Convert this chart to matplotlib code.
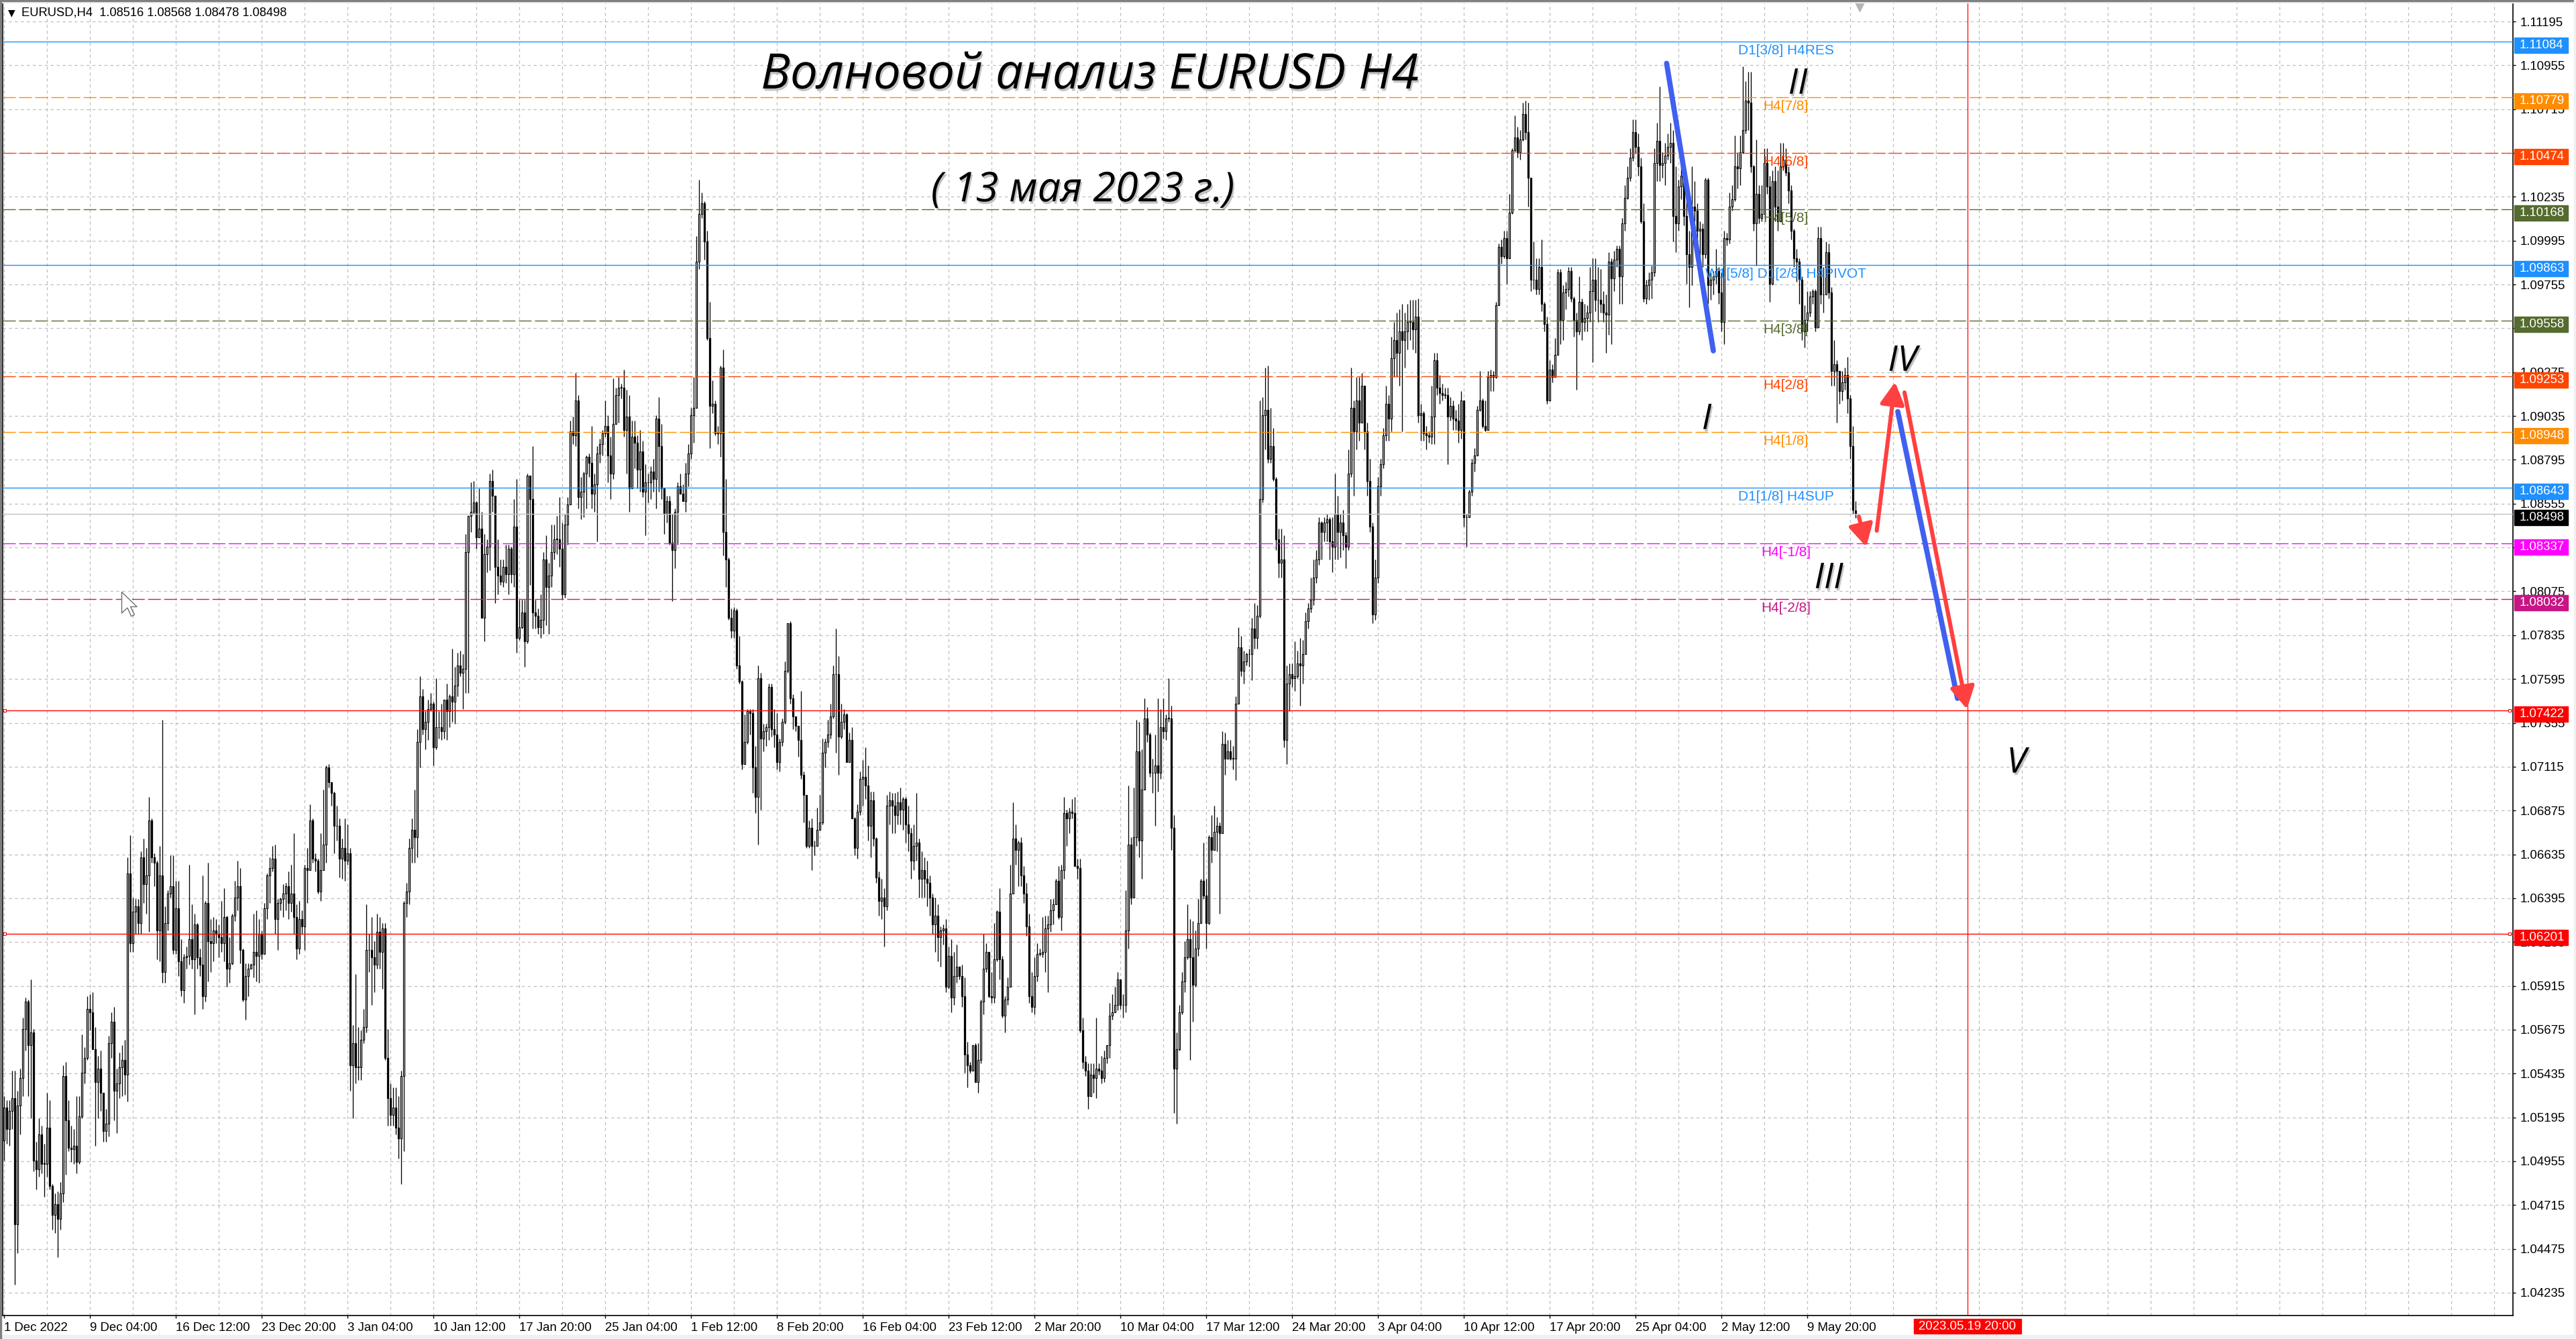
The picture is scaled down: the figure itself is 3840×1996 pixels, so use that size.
# EURUSD H4 wave chart, MT4 style
import numpy as np
import matplotlib
matplotlib.use("Agg")
import matplotlib.pyplot as plt
import matplotlib.patheffects as pe
from matplotlib.patches import Rectangle
from matplotlib.path import Path
from matplotlib.transforms import blended_transform_factory

plt.rcParams['font.family'] = ['Liberation Sans', 'DejaVu Sans']
plt.rcParams['lines.scale_dashes'] = False

# candle values, in pips (1/10000), one H4 bar per entry
close_pips = [
    10525,10513,10523,10530,10461,10526,10541,10568,10583,10559,
    10566,10496,10491,10510,10494,10494,10514,10482,10466,10472,
    10464,10478,10542,10518,10503,10502,10504,10495,10520,10544,
    10552,10579,10577,10557,10539,10546,10533,10512,10516,10560,
    10572,10534,10538,10547,10551,10543,10653,10615,10632,10635,
    10626,10662,10647,10652,10682,10662,10659,10622,10652,10599,
    10626,10642,10646,10611,10634,10605,10589,10607,10608,10617,
    10606,10625,10607,10603,10586,10637,10616,10615,10622,10620,
    10618,10615,10629,10601,10604,10630,10640,10646,10611,10584,
    10597,10601,10603,10610,10608,10620,10609,10634,10652,10656,
    10661,10628,10637,10639,10642,10646,10637,10642,10629,10612,
    10628,10624,10656,10655,10682,10661,10660,10643,10655,10669,
    10711,10703,10697,10679,10679,10661,10667,10660,10664,10548,
    10560,10547,10547,10562,10569,10611,10611,10607,10603,10621,
    10610,10623,10552,10530,10521,10525,10514,10508,10542,10637,
    10643,10667,10677,10673,10725,10750,10732,10736,10743,10746,
    10722,10733,10733,10731,10748,10742,10750,10747,10756,10767,
    10763,10765,10829,10849,10851,10856,10837,10842,10793,10828,
    10832,10868,10860,10821,10816,10813,10821,10817,10831,10817,
    10843,10782,10788,10796,10780,10871,10858,10796,10794,10788,
    10792,10825,10810,10816,10829,10836,10836,10831,10806,10844,
    10855,10895,10893,10912,10859,10862,10872,10881,10878,10861,
    10866,10883,10888,10894,10898,10882,10872,10899,10915,10919,
    10919,10896,10903,10864,10892,10889,10874,10884,10862,10867,
    10867,10873,10869,10902,10887,10864,10850,10857,10834,10830,
    10851,10865,10861,10857,10872,10883,10904,10908,10988,11014,
    11020,10999,10946,10909,10910,10894,10894,10930,10840,10825,
    10793,10786,10797,10767,10758,10713,10725,10742,10741,10711,
    10695,10760,10727,10731,10733,10755,10732,10729,10714,10725,
    10736,10764,10790,10749,10739,10734,10726,10707,10696,10668,
    10678,10668,10668,10677,10681,10719,10725,10729,10739,10762,
    10762,10728,10736,10740,10714,10726,10683,10667,10687,10705,
    10706,10701,10679,10693,10672,10651,10638,10640,10635,10690,
    10693,10690,10685,10692,10688,10694,10680,10675,10660,10668,
    10670,10650,10655,10650,10648,10640,10625,10630,10618,10622,
    10623,10591,10608,10585,10597,10602,10597,10586,10554,10548,
    10545,10559,10539,10551,10583,10601,10610,10586,10585,10606,
    10632,10606,10575,10584,10591,10642,10672,10666,10670,10652,
    10642,10624,10586,10580,10597,10609,10609,10610,10623,10625,
    10633,10636,10649,10629,10655,10686,10683,10687,10686,10657,
    10656,10567,10550,10545,10531,10543,10541,10546,10545,10541,
    10552,10559,10575,10577,10581,10595,10581,10581,10622,10669,
    10640,10673,10720,10671,10699,10738,10729,10708,10708,10712,
    10708,10733,10731,10738,10738,10678,10546,10557,10577,10594,
    10607,10617,10607,10592,10612,10626,10649,10641,10626,10673,
    10666,10676,10679,10675,10724,10716,10720,10716,10716,10746,
    10777,10764,10769,10773,10773,10787,10782,10794,10858,10904,
    10907,10880,10887,10869,10836,10823,10825,10726,10757,10762,
    10760,10761,10768,10767,10773,10791,10798,10803,10815,10825,
    10845,10840,10845,10847,10835,10832,10850,10840,10845,10838,
    10832,10872,10908,10895,10912,10900,10920,10895,10868,10843,
    10795,10815,10865,10877,10893,10910,10902,10935,10945,10938,
    10950,10945,10950,10955,10955,10951,10958,10904,10905,10894,
    10893,10892,10903,10934,10919,10916,10915,10915,10903,10909,
    10902,10901,10896,10912,10848,10848,10862,10878,10882,10907,
    10912,10898,10896,10925,10926,10925,10964,10996,10991,11001,
    10990,11015,11049,11056,11048,11055,11069,11059,11034,10978,
    10978,10973,10985,10965,10954,10912,10929,10925,10937,10982,
    10956,10971,10973,10983,10968,10956,10950,10966,10955,10957,
    10960,10972,10978,10967,10967,10965,10960,10959,10988,10979,
    10989,10995,10980,11009,11023,11034,11045,11059,11051,11040,
    11010,10968,10975,10978,10982,11042,11054,11041,11042,11046,
    11051,11053,11013,11009,11029,11035,11013,10992,10985,11018,
    11016,11005,11006,10992,11033,10975,10978,10980,10983,10971,
    10955,11001,11000,11018,11022,11040,11039,11048,11060,11076,
    11075,11040,11009,11025,11012,11014,11042,11029,10976,11032,
    11018,11010,11040,11044,11037,11027,11005,10990,10988,10978,
    10950,10956,10960,10969,10972,10952,11001,10970,10970,10993,
    10971,10928,10932,10928,10917,10922,10926,10913,10887,10852,
    10849.8,
]
high_pips = [
    10531,10529,10529,10545,10545,10534,10546,10574,10585,10584,
    10595,10568,10506,10519,10515,10505,10533,10529,10483,10478,
    10479,10484,10548,10550,10529,10515,10513,10531,10531,10565,
    10558,10586,10587,10588,10569,10553,10556,10533,10524,10564,
    10577,10580,10546,10555,10559,10562,10662,10674,10640,10639,
    10639,10665,10672,10667,10695,10683,10664,10660,10668,10737,
    10635,10644,10663,10663,10649,10649,10617,10609,10613,10658,
    10636,10631,10626,10612,10652,10638,10659,10628,10629,10628,
    10625,10638,10645,10630,10618,10631,10649,10660,10656,10612,
    10604,10604,10604,10631,10633,10628,10622,10637,10653,10662,
    10668,10669,10639,10640,10647,10648,10654,10658,10675,10636,
    10638,10633,10658,10667,10691,10683,10664,10661,10675,10699,
    10712,10713,10702,10698,10690,10683,10672,10683,10680,10667,
    10570,10598,10569,10567,10579,10636,10620,10629,10616,10631,
    10629,10626,10626,10568,10538,10536,10536,10531,10545,10638,
    10648,10672,10683,10699,10732,10761,10754,10742,10748,10752,
    10747,10760,10742,10746,10748,10757,10751,10776,10766,10774,
    10775,10773,10839,10849,10867,10868,10857,10864,10851,10839,
    10836,10872,10874,10860,10836,10825,10825,10833,10833,10832,
    10858,10869,10803,10803,10803,10872,10871,10887,10803,10798,
    10806,10829,10838,10823,10844,10844,10849,10859,10845,10850,
    10859,10901,10903,10927,10915,10870,10873,10882,10883,10898,
    10872,10887,10891,10896,10912,10904,10892,10924,10919,10925,
    10921,10929,10918,10915,10901,10901,10893,10896,10890,10877,
    10872,10876,10880,10904,10914,10899,10860,10860,10860,10850,
    10853,10867,10872,10866,10878,10888,10908,10925,11002,11033,
    11026,11021,11005,10966,10923,10912,10898,10931,10940,10869,
    10826,10798,10799,10798,10783,10759,10740,10743,10743,10743,
    10723,10767,10763,10735,10735,10757,10757,10743,10741,10727,
    10738,10769,10790,10791,10751,10738,10734,10753,10709,10696,
    10682,10683,10671,10689,10696,10727,10727,10737,10746,10767,
    10787,10772,10746,10743,10741,10730,10733,10684,10691,10709,
    10715,10722,10712,10698,10698,10673,10654,10650,10645,10696,
    10698,10697,10697,10698,10700,10695,10695,10690,10678,10680,
    10697,10672,10665,10662,10660,10652,10642,10640,10636,10624,
    10625,10628,10613,10617,10610,10614,10602,10603,10596,10561,
    10550,10559,10560,10560,10584,10620,10615,10610,10599,10626,
    10633,10645,10608,10586,10596,10658,10692,10680,10671,10673,
    10657,10648,10631,10599,10607,10615,10612,10629,10630,10630,
    10639,10639,10650,10657,10658,10695,10688,10689,10694,10695,
    10661,10661,10574,10553,10549,10549,10549,10574,10549,10553,
    10556,10559,10582,10587,10591,10599,10595,10587,10644,10701,
    10673,10700,10737,10736,10721,10749,10744,10730,10716,10729,
    10749,10743,10749,10740,10760,10745,10685,10566,10581,10599,
    10616,10636,10628,10627,10622,10639,10650,10670,10650,10674,
    10685,10690,10684,10681,10731,10730,10726,10726,10723,10750,
    10788,10783,10775,10774,10776,10793,10801,10800,10912,10914,
    10930,10931,10908,10897,10870,10842,10842,10838,10767,10768,
    10768,10780,10775,10782,10781,10796,10801,10815,10825,10830,
    10848,10846,10848,10850,10848,10848,10872,10860,10850,10852,
    10840,10885,10930,10912,10925,10925,10927,10920,10900,10880,
    10845,10825,10870,10880,10897,10920,10915,10947,10955,10960,
    10962,10965,10960,10965,10967,10967,10967,10968,10910,10906,
    10898,10895,10920,10938,10938,10926,10921,10919,10919,10914,
    10912,10907,10910,10917,10912,10850,10863,10880,10886,10909,
    10928,10913,10912,10928,10929,10928,10966,10998,11000,11005,
    11005,11025,11050,11068,11062,11060,11075,11076,11075,11034,
    10999,10990,10990,11000,10966,10958,10934,10932,10946,10984,
    10984,10975,10977,10985,10985,10969,10960,10980,10968,10965,
    10964,10985,10990,10990,10985,10984,10972,10970,10993,10990,
    10994,10997,10997,11012,11030,11040,11050,11066,11066,11058,
    11045,11020,10978,10982,10986,11050,11064,11084,11048,11053,
    11058,11064,11060,11040,11033,11040,11038,11025,11005,11040,
    11032,11020,11010,11009,11034,11034,10982,10983,10995,10985,
    10982,11005,11004,11026,11030,11057,11048,11057,11095,11087,
    11092,11092,11041,11055,11030,11030,11050,11050,11035,11038,
    11040,11038,11053,11053,11050,11040,11030,11006,10995,10990,
    10980,10964,10972,10972,10973,10973,11007,11007,10985,10999,
    10998,10974,10945,10934,10926,10928,10930,10936,10915,10898,
    10856.8,
]
low_pips = [
    10496,10505,10504,10513,10428,10445,10510,10531,10556,10531,
    10519,10490,10480,10487,10489,10476,10487,10480,10458,10456,
    10443,10458,10473,10488,10501,10495,10494,10489,10494,10519,
    10538,10551,10567,10557,10504,10519,10523,10506,10506,10509,
    10552,10518,10511,10530,10531,10532,10528,10610,10610,10620,
    10620,10620,10637,10631,10621,10659,10646,10606,10605,10593,
    10593,10622,10640,10609,10609,10597,10586,10582,10601,10603,
    10601,10576,10601,10597,10579,10583,10594,10599,10605,10615,
    10607,10610,10605,10591,10593,10603,10627,10633,10604,10583,
    10573,10586,10601,10596,10594,10593,10606,10632,10628,10637,
    10654,10620,10611,10633,10629,10633,10628,10632,10620,10606,
    10609,10620,10611,10637,10655,10659,10654,10642,10638,10655,
    10659,10700,10690,10664,10671,10651,10650,10649,10658,10534,
    10519,10538,10540,10540,10560,10566,10599,10581,10588,10601,
    10601,10590,10551,10515,10515,10515,10510,10497,10483,10501,
    10629,10636,10659,10659,10662,10711,10729,10721,10726,10742,
    10712,10721,10727,10726,10727,10726,10733,10736,10735,10750,
    10761,10743,10752,10752,10840,10850,10831,10837,10793,10780,
    10818,10819,10851,10801,10806,10811,10810,10812,10806,10812,
    10810,10774,10781,10787,10766,10779,10811,10787,10787,10784,
    10782,10784,10789,10784,10810,10825,10828,10821,10803,10804,
    10833,10859,10888,10887,10853,10847,10848,10853,10870,10853,
    10851,10835,10878,10882,10892,10867,10858,10869,10899,10900,
    10913,10892,10872,10851,10864,10875,10864,10862,10859,10838,
    10856,10858,10862,10853,10862,10858,10839,10845,10833,10802,
    10820,10833,10861,10857,10851,10865,10880,10889,10908,10984,
    11012,10989,10945,10886,10905,10893,10888,10881,10827,10810,
    10792,10782,10782,10765,10757,10710,10713,10724,10729,10697,
    10686,10669,10688,10720,10723,10726,10728,10722,10710,10709,
    10723,10735,10763,10746,10732,10731,10717,10705,10681,10667,
    10667,10655,10663,10668,10677,10680,10711,10722,10727,10738,
    10719,10707,10727,10732,10714,10714,10683,10663,10661,10685,
    10690,10694,10671,10662,10668,10648,10630,10628,10613,10633,
    10680,10675,10675,10680,10680,10677,10670,10665,10650,10655,
    10660,10640,10640,10640,10635,10630,10620,10610,10605,10602,
    10614,10588,10590,10577,10581,10593,10595,10580,10544,10536,
    10544,10546,10539,10533,10549,10576,10599,10585,10582,10582,
    10605,10595,10574,10566,10581,10591,10642,10658,10646,10646,
    10637,10619,10582,10577,10576,10594,10608,10607,10599,10588,
    10621,10625,10636,10628,10622,10650,10668,10675,10683,10657,
    10650,10566,10546,10542,10524,10531,10533,10530,10543,10538,
    10539,10549,10552,10573,10577,10578,10579,10574,10577,10612,
    10636,10663,10668,10662,10650,10699,10725,10706,10697,10679,
    10698,10705,10727,10726,10736,10666,10522,10516,10556,10576,
    10588,10606,10551,10572,10591,10608,10626,10639,10612,10625,
    10659,10666,10665,10631,10675,10707,10716,10715,10710,10704,
    10746,10761,10757,10767,10766,10759,10776,10776,10793,10856,
    10885,10878,10878,10868,10830,10815,10815,10722,10713,10742,
    10755,10753,10760,10745,10757,10773,10787,10796,10800,10812,
    10822,10825,10835,10835,10825,10818,10825,10825,10826,10830,
    10820,10830,10870,10860,10885,10890,10900,10885,10860,10840,
    10790,10792,10812,10860,10875,10890,10890,10895,10925,10925,
    10920,10895,10930,10940,10945,10940,10938,10900,10890,10890,
    10885,10889,10888,10888,10915,10910,10912,10913,10877,10901,
    10896,10896,10889,10891,10843,10832,10848,10860,10873,10882,
    10906,10897,10895,10910,10917,10917,10924,10964,10987,10990,
    10976,10990,11014,11048,11045,11044,11054,11055,11018,10972,
    10973,10970,10970,10961,10950,10910,10912,10922,10925,10937,
    10943,10945,10962,10969,10966,10947,10918,10948,10945,10950,
    10950,10955,10933,10961,10955,10960,10955,10938,10948,10943,
    10972,10985,10965,10965,11005,11022,11032,11043,11047,11035,
    11009,10966,10965,10967,10968,10980,11032,11032,11034,11030,
    11044,11042,10999,10993,11005,11022,11008,10976,10963,10975,
    11010,10995,10990,10985,10990,10965,10967,10970,10976,10965,
    10950,10943,10997,10998,11016,11021,11028,11030,11047,11058,
    11060,11037,11005,10986,11009,11010,11025,11025,10966,10975,
    11010,11005,11022,11038,11035,11020,11000,10985,10977,10965,
    10945,10941,10950,10958,10965,10950,10952,10965,10960,10975,
    10968,10920,10920,10900,10910,10912,10918,10905,10880,10850,
    10847.8,
]
first_open_pips = 10507
last_open_pips = 10851.6

price_ticks = [1.11195, 1.10955, 1.10715, 1.10475, 1.10235, 1.09995, 1.09755, 1.09515,
               1.09275, 1.09035, 1.08795, 1.08555, 1.08315, 1.08075, 1.07835, 1.07595,
               1.07355, 1.07115, 1.06875, 1.06635, 1.06395, 1.06155, 1.05915, 1.05675,
               1.05435, 1.05195, 1.04955, 1.04715, 1.04475, 1.04235]
date_labels = ["1 Dec 2022", "9 Dec 04:00", "16 Dec 12:00", "23 Dec 20:00", "3 Jan 04:00",
               "10 Jan 12:00", "17 Jan 20:00", "25 Jan 04:00", "1 Feb 12:00", "8 Feb 20:00",
               "16 Feb 04:00", "23 Feb 12:00", "2 Mar 20:00", "10 Mar 04:00", "17 Mar 12:00",
               "24 Mar 20:00", "3 Apr 04:00", "10 Apr 12:00", "17 Apr 20:00", "25 Apr 04:00",
               "2 May 12:00", "9 May 20:00"]

# murrey levels: price, colour, dashed or not, chart text
level_prices = [1.11084, 1.10779, 1.10474, 1.10168, 1.09863, 1.09558, 1.09253, 1.08948,
                1.08643, 1.08337, 1.08032]
level_colors = ['#1E90FF', '#FF8C00', '#FF4500', '#556B2F', '#1E90FF', '#556B2F', '#FF4500',
                '#FF8C00', '#1E90FF', '#FF00FF', '#C71585']
level_dashed = [False, True, True, True, False, True, True, True, False, True, True]
level_names = ["D1[3/8] H4RES", "H4[7/8]", "H4[6/8]", "H4[5/8]", "W1[5/8] D1[2/8] H4PIVOT",
               "H4[3/8]", "H4[2/8]", "H4[1/8]", "D1[1/8] H4SUP", "H4[-1/8]", "H4[-2/8]"]
red_levels = [1.07422, 1.06201]
last_price = 1.08498
target_bar = 731.75
target_label = "2023.05.19 20:00"
label_bar = 664

wave_names = ["I", "II", "III", "IV", "V"]
wave_bars = [634.5, 668.5, 680, 707.5, 750]
wave_prices = [1.09014, 1.10850, 1.08143, 1.09333, 1.07133]

blue_legs = [((619.6, 1.10966), (637, 1.09392)), ((705.75, 1.09059), (728, 1.07489))]
red_legs = [((691.25, 1.08484), (694, 1.08319)), ((697.9, 1.08407), (704.75, 1.09221)),
            ((708.25, 1.09164), (731.5, 1.07430))]

close = np.array(close_pips) / 10000
high = np.array(high_pips) / 10000
low = np.array(low_pips) / 10000
opens = np.concatenate([[first_open_pips / 10000], close[:-1]])
opens[-1] = last_open_pips / 10000
bars = np.arange(len(close))

W, H = 3840, 1996
fig = plt.figure(figsize=(W / 100, H / 100), dpi=100, facecolor='white')
ax = fig.add_axes([4 / W, 1 - 1961 / H, 3742 / W, 1957 / H])
ax.set_xlim(-0.5, 935)
ax.set_ylim(1.0411, 1.11298)

# window chrome
fig.patches.append(Rectangle((0, 1 - 4 / H), 1, 4 / H, transform=fig.transFigure, color='#F0F0F0', zorder=0))
fig.patches.append(Rectangle((0, 1 - 2 / H), 1, 2 / H, transform=fig.transFigure, color='#808080', zorder=0))
fig.patches.append(Rectangle((0, 0), 1, 6 / H, transform=fig.transFigure, color='#F0F0F0', zorder=0))
fig.patches.append(Rectangle((0, 0), 2 / W, 1, transform=fig.transFigure, color='#808080', zorder=0))
fig.patches.append(Rectangle((1 - 3 / W, 0), 3 / W, 1, transform=fig.transFigure, color='#F0F0F0', zorder=0))

# grid and axes
ax.set_yticks(price_ticks)
ax.set_yticklabels([f"{p:.5f}" for p in price_ticks])
ax.yaxis.tick_right()
ax.set_xticks(np.arange(len(date_labels)) * 32)
ax.set_xticklabels(date_labels, ha='left')
ax.set_xticks(np.arange(16, 930, 16), minor=True)
ax.tick_params(axis='y', length=3, width=1, pad=4.5, labelsize=13.4, colors='black')
ax.tick_params(axis='x', which='major', length=3, width=1, pad=4.5, labelsize=13.4)
ax.tick_params(axis='x', which='minor', length=0)
ax.grid(True, axis='both', which='both', color='#BEBEBE', linewidth=0.9, linestyle=(0, (3.2, 3.2)), zorder=0)
ax.set_axisbelow(True)
for spine in ax.spines.values():
    spine.set_linewidth(1.2)

# candles
ax.vlines(bars, low, high, color='black', linewidth=0.95, zorder=2)
body_low = np.minimum(opens, close)
body_high = np.maximum(opens, close)
down = close < opens
ax.bar(bars, np.maximum(body_high - body_low, 0.00002), bottom=body_low, width=0.42,
       color=np.where(down, 'black', 'white'), edgecolor='black', linewidth=0.9, zorder=2.5)

# levels
to_label = blended_transform_factory(ax.transAxes, ax.transData)
axis_x = lambda px: (px - 4) / 3742
price_px = 0.0024 / 65.34


def price_tag(price, color):
    center = price - 5.5 * price_px
    ax.add_patch(Rectangle((axis_x(3748), center - 11.5 * price_px), 80 / 3742, 23 * price_px,
                           transform=to_label, color=color, clip_on=False, zorder=6))
    ax.text(axis_x(3756), center, f"{price:.5f}", transform=to_label, color='white',
            fontsize=13.4, va='center', ha='left', clip_on=False, zorder=7)


for price, color, dashed, name in zip(level_prices, level_colors, level_dashed, level_names):
    style = (0, (13.7, 3.6)) if dashed else '-'
    ax.axhline(price, color=color, linewidth=1.0, linestyle=style, zorder=3)
    ax.text(label_bar, price - 13.5 * price_px, name, color=color, fontsize=15,
            ha='center', va='center', zorder=4)
    price_tag(price, color)

ax.axhline(last_price, color='#C0C0C0', linewidth=1.0, zorder=3)
price_tag(last_price, 'black')
for price in red_levels:
    ax.axhline(price, color='#FF0000', linewidth=1.0, zorder=3)
    ax.plot([0.3], [price], marker='s', ms=3.5, mfc='white', mec='#FF0000', mew=0.8, zorder=4)
    ax.plot([933.8], [price], marker='s', ms=3.5, mfc='white', mec='#FF0000', mew=0.8, zorder=4)
    price_tag(price, '#FF0000')

# time line and its box
ax.axvline(target_bar, color='#FF0000', linewidth=0.9, zorder=3)
date_trans = blended_transform_factory(ax.transData, ax.transAxes)
ax.add_patch(Rectangle((target_bar - 80 / 4, -27 / 1957), 160 / 4, 22 / 1957, transform=date_trans,
                       color='#FF0000', clip_on=False, zorder=6))
ax.text(target_bar, -16 / 1957, target_label, transform=date_trans, color='white', fontsize=13.4,
        ha='center', va='center', clip_on=False, zorder=7)

# legs drawn by hand on the chart
for start, end in blue_legs:
    ax.plot([start[0], end[0]], [start[1], end[1]], color='#4060F0', linewidth=5.6,
            solid_capstyle='round', zorder=5)
for start, end in red_legs:
    ax.annotate("", xy=end, xytext=start, zorder=5.5,
                arrowprops=dict(arrowstyle='-|>,head_length=1.0,head_width=0.55', color='#FF4040',
                                lw=4.4, shrinkA=0, shrinkB=0, mutation_scale=20))

# soft shadow under the hand written texts
shadow = [pe.withSimplePatchShadow(offset=(1.5, -2.5), shadow_rgbFace='#888888', alpha=0.5)]

# wave numbers
for name, x, y in zip(wave_names, wave_bars, wave_prices):
    ax.text(x, y, name, fontsize=38, family='Open Sans', style='italic', color='black',
            ha='center', va='center', zorder=5.2, path_effects=shadow)

# header texts
ax.text(404.5, 1.10898, "Волновой анализ EURUSD H4", fontsize=52.5, family='Open Sans',
        style='italic', color='black', ha='center', va='center', zorder=5.2, path_effects=shadow)
ax.text(402, 1.10269, "( 13 мая 2023 г.)", fontsize=44, family='Open Sans',
        style='italic', color='black', ha='center', va='center', zorder=5.2, path_effects=shadow)

ax.text(8 / 3742, 1 - 15 / 1957, "▼", transform=ax.transAxes, fontsize=10, family='DejaVu Sans',
        va='center', ha='left', zorder=7)
ax.text(28 / 3742, 1 - 15 / 1957, "EURUSD,H4  1.08516 1.08568 1.08478 1.08498", transform=ax.transAxes,
        fontsize=13.2, va='center', ha='left', zorder=7)

# shift marker and the mouse pointer
ax.plot([691.5], [1.11281], marker='v', ms=11, color='#B4B4B4', clip_on=False, zorder=4)
pointer = Path([(0, 0), (0, -1), (0.27, -0.75), (0.45, -1.15), (0.6, -1.08), (0.42, -0.7), (0.72, -0.7), (0, 0)])
ax.plot([43.8], [1.08073], marker=pointer, ms=52, mfc='white', mec='#707070', mew=1.0, zorder=6)

fig.savefig("out.png", dpi=100, facecolor='white')
